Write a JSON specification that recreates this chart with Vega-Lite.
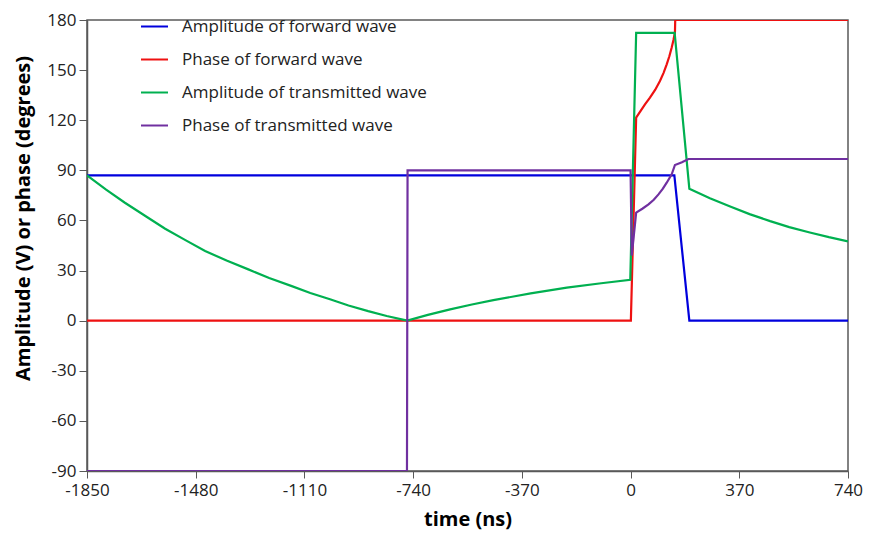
{
  "$schema": "https://vega.github.io/schema/vega-lite/v6.json",
  "width": 761,
  "height": 451,
  "autosize": "none",
  "padding": {"left": 87, "top": 20, "right": 21, "bottom": 65},
  "background": "white",
  "config": {
    "view": {"stroke": "#595959", "strokeWidth": 1.5},
    "font": "Open Sans"
  },
  "data": {
    "values": [
      {"series": "Amplitude of forward wave", "t": -1850, "v": 87},
      {"series": "Amplitude of forward wave", "t": 149, "v": 87},
      {"series": "Amplitude of forward wave", "t": 200, "v": 0},
      {"series": "Amplitude of forward wave", "t": 740, "v": 0},

      {"series": "Phase of forward wave", "t": -1850, "v": 0},
      {"series": "Phase of forward wave", "t": 1, "v": 0},
      {"series": "Phase of forward wave", "t": 19, "v": 121.5},
      {"series": "Phase of forward wave", "t": 49, "v": 129.5},
      {"series": "Phase of forward wave", "t": 66, "v": 133.5},
      {"series": "Phase of forward wave", "t": 84, "v": 138.3},
      {"series": "Phase of forward wave", "t": 100, "v": 143.5},
      {"series": "Phase of forward wave", "t": 112, "v": 148.2},
      {"series": "Phase of forward wave", "t": 123, "v": 153.5},
      {"series": "Phase of forward wave", "t": 132, "v": 158.3},
      {"series": "Phase of forward wave", "t": 140, "v": 163.5},
      {"series": "Phase of forward wave", "t": 146, "v": 168},
      {"series": "Phase of forward wave", "t": 151, "v": 172.5},
      {"series": "Phase of forward wave", "t": 152, "v": 180},
      {"series": "Phase of forward wave", "t": 740, "v": 180},

      {"series": "Amplitude of transmitted wave", "t": -1850, "v": 87},
      {"series": "Amplitude of transmitted wave", "t": -1785, "v": 78.5},
      {"series": "Amplitude of transmitted wave", "t": -1721, "v": 70.6},
      {"series": "Amplitude of transmitted wave", "t": -1650, "v": 62.5},
      {"series": "Amplitude of transmitted wave", "t": -1584, "v": 55},
      {"series": "Amplitude of transmitted wave", "t": -1515, "v": 48.2},
      {"series": "Amplitude of transmitted wave", "t": -1448, "v": 41.7},
      {"series": "Amplitude of transmitted wave", "t": -1375, "v": 36},
      {"series": "Amplitude of transmitted wave", "t": -1301, "v": 30.7},
      {"series": "Amplitude of transmitted wave", "t": -1230, "v": 25.5},
      {"series": "Amplitude of transmitted wave", "t": -1153, "v": 20.7},
      {"series": "Amplitude of transmitted wave", "t": -1090, "v": 16.6},
      {"series": "Amplitude of transmitted wave", "t": -1023, "v": 12.8},
      {"series": "Amplitude of transmitted wave", "t": -960, "v": 9.1},
      {"series": "Amplitude of transmitted wave", "t": -893, "v": 5.7},
      {"series": "Amplitude of transmitted wave", "t": -830, "v": 2.8},
      {"series": "Amplitude of transmitted wave", "t": -760, "v": 0},
      {"series": "Amplitude of transmitted wave", "t": -690, "v": 3.5},
      {"series": "Amplitude of transmitted wave", "t": -614, "v": 6.8},
      {"series": "Amplitude of transmitted wave", "t": -540, "v": 9.7},
      {"series": "Amplitude of transmitted wave", "t": -467, "v": 12.3},
      {"series": "Amplitude of transmitted wave", "t": -340, "v": 16.3},
      {"series": "Amplitude of transmitted wave", "t": -217, "v": 19.8},
      {"series": "Amplitude of transmitted wave", "t": -100, "v": 22.4},
      {"series": "Amplitude of transmitted wave", "t": -1, "v": 24.5},
      {"series": "Amplitude of transmitted wave", "t": 19, "v": 172.3},
      {"series": "Amplitude of transmitted wave", "t": 150, "v": 172.3},
      {"series": "Amplitude of transmitted wave", "t": 200, "v": 79},
      {"series": "Amplitude of transmitted wave", "t": 270, "v": 73.3},
      {"series": "Amplitude of transmitted wave", "t": 339, "v": 68.3},
      {"series": "Amplitude of transmitted wave", "t": 405, "v": 63.8},
      {"series": "Amplitude of transmitted wave", "t": 475, "v": 59.6},
      {"series": "Amplitude of transmitted wave", "t": 540, "v": 56},
      {"series": "Amplitude of transmitted wave", "t": 610, "v": 52.8},
      {"series": "Amplitude of transmitted wave", "t": 675, "v": 50},
      {"series": "Amplitude of transmitted wave", "t": 740, "v": 47.5},

      {"series": "Phase of transmitted wave", "t": -1850, "v": -90},
      {"series": "Phase of transmitted wave", "t": -761, "v": -90},
      {"series": "Phase of transmitted wave", "t": -759, "v": 90},
      {"series": "Phase of transmitted wave", "t": 0, "v": 90},
      {"series": "Phase of transmitted wave", "t": 4, "v": 39},
      {"series": "Phase of transmitted wave", "t": 19, "v": 64.7},
      {"series": "Phase of transmitted wave", "t": 40, "v": 67},
      {"series": "Phase of transmitted wave", "t": 61, "v": 69.6},
      {"series": "Phase of transmitted wave", "t": 79, "v": 72.4},
      {"series": "Phase of transmitted wave", "t": 95, "v": 75.6},
      {"series": "Phase of transmitted wave", "t": 110, "v": 79},
      {"series": "Phase of transmitted wave", "t": 123, "v": 82.6},
      {"series": "Phase of transmitted wave", "t": 140, "v": 87.6},
      {"series": "Phase of transmitted wave", "t": 151, "v": 93.2},
      {"series": "Phase of transmitted wave", "t": 175, "v": 94.8},
      {"series": "Phase of transmitted wave", "t": 197, "v": 96.8},
      {"series": "Phase of transmitted wave", "t": 740, "v": 96.8}
    ]
  },
  "mark": {"type": "line", "strokeWidth": 2.2, "clip": true},
  "encoding": {
    "x": {
      "field": "t",
      "type": "quantitative",
      "scale": {"domain": [-1850, 740], "nice": false, "zero": false},
      "axis": {
        "title": "time (ns)",
        "values": [-1850, -1480, -1110, -740, -370, 0, 370, 740],
        "labelExpr": "'' + datum.value",
        "grid": false,
        "domainColor": "#595959",
        "domainWidth": 1.5,
        "tickColor": "#595959",
        "tickSize": 7,
        "labelFontSize": 17,
        "labelColor": "#222222",
        "labelPadding": 4,
        "labelFlush": false,
        "titleFontSize": 20,
        "titleFontWeight": "bold",
        "titleColor": "#000000",
        "titlePadding": 11
      }
    },
    "y": {
      "field": "v",
      "type": "quantitative",
      "scale": {"domain": [-90, 180], "nice": false, "zero": false},
      "axis": {
        "title": "Amplitude (V) or phase (degrees)",
        "titleY": 198,
        "values": [-90, -60, -30, 0, 30, 60, 90, 120, 150, 180],
        "labelExpr": "'' + datum.value",
        "grid": false,
        "domainColor": "#595959",
        "domainWidth": 1.5,
        "tickColor": "#595959",
        "tickSize": 8,
        "labelFontSize": 17,
        "labelColor": "#222222",
        "labelPadding": 3,
        "titleFontSize": 20,
        "titleFontWeight": "bold",
        "titleColor": "#000000",
        "titlePadding": 13
      }
    },
    "color": {
      "field": "series",
      "type": "nominal",
      "sort": ["Amplitude of forward wave", "Phase of forward wave", "Amplitude of transmitted wave", "Phase of transmitted wave"],
      "scale": {
        "domain": ["Amplitude of forward wave", "Phase of forward wave", "Amplitude of transmitted wave", "Phase of transmitted wave"],
        "range": ["#0000DD", "#EE1111", "#00B050", "#7030A0"]
      },
      "legend": {
        "title": null,
        "orient": "none",
        "legendX": 53,
        "legendY": -8,
        "padding": 0,
        "symbolType": "stroke",
        "symbolSize": 729,
        "symbolStrokeWidth": 2,
        "labelFontSize": 17,
        "labelColor": "#222222",
        "labelOffset": 13,
        "rowPadding": 10,
        "labelLimit": 400
      }
    },
    "order": {"field": "t", "type": "quantitative"}
  }
}
